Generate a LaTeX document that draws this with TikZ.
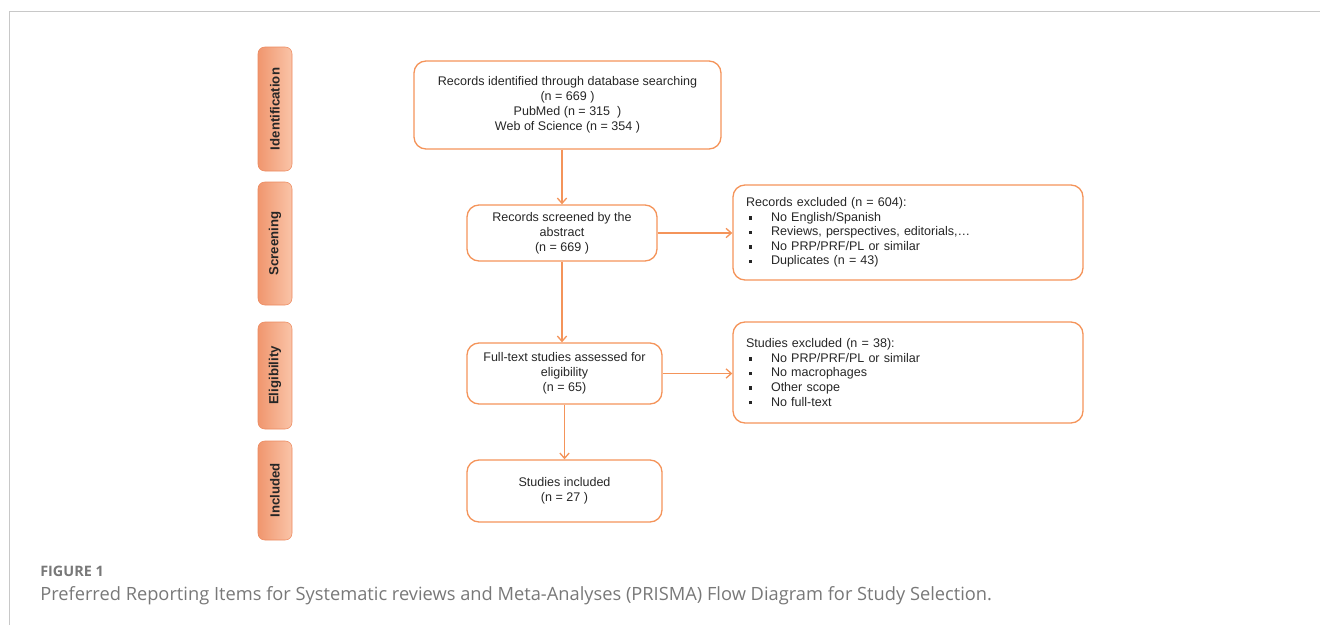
\documentclass[tikz,border=0pt]{standalone}
\usepackage{fontspec}
\setmainfont{Liberation Sans}
\newfontfamily\capfont{Open Sans}
\usepackage{xcolor}
\usetikzlibrary{arrows.meta, positioning, calc, shapes}
\definecolor{boxorange}{RGB}{244,148,90}
\definecolor{stageleft}{RGB}{240,150,110}
\definecolor{stageright}{RGB}{250,196,168}
\definecolor{stageborder}{RGB}{236,138,96}
\definecolor{framegray}{RGB}{200,200,200}
\definecolor{capgray}{RGB}{120,120,120}
\tikzstyle{box} = [draw=boxorange, line width=1pt, rounded corners=9pt, align=center, inner sep=0pt, text=black!85, font=\fontsize{9.4}{11.2}\selectfont]
\tikzstyle{exclbox} = [box, align=left, inner xsep=9.75pt, text width=243pt, font=\fontsize{9.4}{10.9}\selectfont]
\tikzstyle{stage} = [draw=stageborder, rounded corners=5pt, rotate=90, left color=stageleft, right color=stageright, minimum height=25.5pt, inner sep=0pt, text=black!85, font=\fontsize{9.9}{11}\selectfont\bfseries]
\tikzstyle{arrow} = [draw=boxorange, line width=1pt, -{Straight Barb[length=4pt,width=7pt]}]
\newcommand{\bul}{\makebox[18.75pt][l]{\hspace{2.25pt}\rule[0.25ex]{2.6pt}{2.6pt}}}

\begin{document}
\begin{tikzpicture}[x=0.75pt, y=-0.75pt]
  \useasboundingbox (0,0) rectangle (1320,625);
  \draw[framegray, line width=0.75pt] (9,625) -- (9,11) -- (1320,11);

  % phases
  \node[stage, minimum width=93pt] (ident) at (275,109) {Identification};
  \node[stage, minimum width=92.25pt] (screen) at (275,243.5) {Screening};
  \node[stage, minimum width=80.25pt] (elig) at (275,375.5) {Eligibility};
  \node[stage, minimum width=74.25pt] (incl) at (275,490.5) {Included};

  % flow
  \node[box, minimum width=230.25pt, minimum height=66pt] (records) at (567.5,105)
    {Records identified through database searching\\(n = 669 )\\PubMed\ (n = 315 \ )\\Web of Science (n = 354 )};
  \node[box, minimum width=142.5pt, minimum height=42pt] (screened) at (562,233)
    {Records screened by the\\abstract\\(n = 669 )};
  \node[exclbox, minimum height=71.25pt] (recexcl) at (908,232.5)
    {Records excluded (n = 604):\\
     \bul No English/Spanish\\
     \bul Reviews, perspectives, editorials,\dots\\
     \bul No PRP/PRF/PL or similar\\
     \bul Duplicates (n = 43)};
  \node[box, minimum width=146.25pt, minimum height=45.75pt] (fulltext) at (564.5,373.5)
    {Full-text studies assessed for\\eligibility\\(n = 65)};
  \node[exclbox, minimum height=75.75pt] (studexcl) at (908,372.5)
    {Studies excluded (n = 38):\\
     \bul No PRP/PRF/PL or similar\\
     \bul No macrophages\\
     \bul Other scope\\
     \bul No full-text};
  \node[box, minimum width=146.25pt, minimum height=46.5pt] (included) at (564.5,491)
    {Studies included\\(n = 27 )};

  \draw[arrow] (screened.north |- records.south) -- (screened.north);
  \draw[arrow] (screened.east) -- (recexcl.west |- screened.east);
  \draw[arrow] (screened.south) -- (screened.south |- fulltext.north);
  \draw[arrow] (fulltext.east) -- (studexcl.west |- fulltext.east);
  \draw[arrow] (fulltext.south) -- (included.north);

  % caption
  \node[anchor=base west, inner sep=0pt, text=capgray, font=\capfont\fontsize{10.8}{12}\selectfont\bfseries] (figlabel) at (40,576) {FIGURE 1};
  \node[anchor=base west, inner sep=0pt, text=capgray, font=\capfont\fontsize{13.7}{16}\selectfont] (caption) at (40,600)
    {Preferred Reporting Items for Systematic reviews and Meta-Analyses (PRISMA) Flow Diagram for Study Selection.};
\end{tikzpicture}
\end{document}
